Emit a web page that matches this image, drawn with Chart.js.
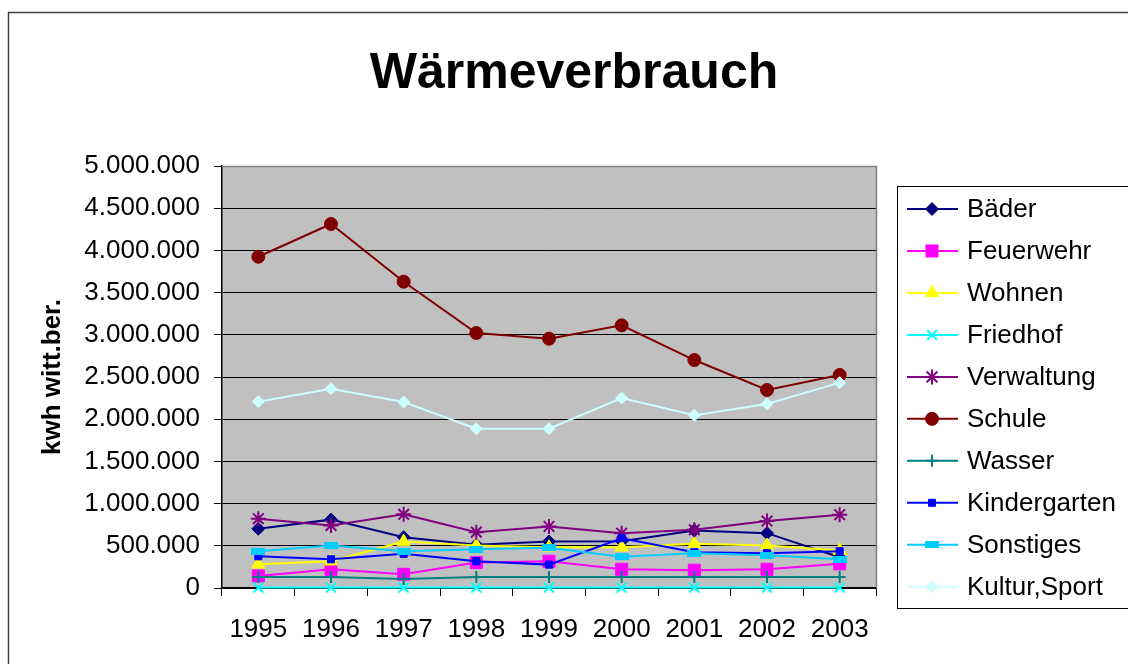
<!DOCTYPE html>
<html>
<head>
<meta charset="utf-8">
<title>Wärmeverbrauch</title>
<script src="https://cdn.jsdelivr.net/npm/chart.js@4.4.1/dist/chart.umd.min.js"></script>
<style>
  body { margin: 0; background: #fff; }
  #wrap { width: 1128px; height: 664px; }
</style>
</head>
<body>
<div id="wrap"><canvas id="heatChart" width="1128" height="664"></canvas></div>
<script>
// values (kWh, weather adjusted)
const years = ['1995', '1996', '1997', '1998', '1999', '2000', '2001', '2002', '2003'];
const baeder = [702000, 810000, 602000, 512000, 551000, 555000, 682000, 650000, 364000];
const feuerwehr = [143000, 221000, 162000, 301000, 317000, 221000, 210000, 221000, 286000];
const wohnen = [280000, 317000, 550000, 504000, 483000, 483000, 524000, 504000, 444000];
const friedhof = [5000, 5000, 5000, 5000, 5000, 5000, 5000, 5000, 5000];
const verwaltung = [821000, 742000, 873000, 662000, 730000, 650000, 690000, 793000, 869000];
const schule = [3925000, 4313000, 3629000, 3021000, 2954000, 3112000, 2701000, 2346000, 2524000];
const wasser = [131000, 131000, 107000, 131000, 131000, 131000, 131000, 131000, 131000];
const kindergarten = [376000, 340000, 405000, 317000, 277000, 590000, 424000, 412000, 436000];
const sonstiges = [436000, 504000, 436000, 460000, 476000, 369000, 412000, 388000, 340000];
const kultur = [2207000, 2361000, 2204000, 1887000, 1887000, 2251000, 2046000, 2180000, 2433000];
const yTicks = [0, 500000, 1000000, 1500000, 2000000, 2500000, 3000000, 3500000, 4000000, 4500000, 5000000];

const FONT = '"Liberation Sans", Arial, sans-serif';

// wide flat marker used by Excel for "Sonstiges"
function dashMarker(color) {
    const c = document.createElement('canvas');
    c.width = 14; c.height = 7;
    const g = c.getContext('2d');
    g.fillStyle = color;
    g.fillRect(0, 0, 14, 7);
    return c;
}

function series(label, data, color, style, radius, extra) {
    return Object.assign({
        label: label,
        data: data,
        borderColor: color,
        backgroundColor: color,
        borderWidth: 2,
        pointStyle: style,
        pointRadius: radius,
        pointBorderWidth: (style === 'cross' || style === 'crossRot' || style === 'star') ? 2 : 1,
        pointBorderColor: color,
        pointBackgroundColor: color,
        tension: 0,
        clip: false
    }, extra || {});
}

const datasets = [
    series('Bäder', baeder, '#000080', 'rectRot', 6.5),
    series('Feuerwehr', feuerwehr, '#FF00FF', 'rect', 8.5),
    series('Wohnen', wohnen, '#FFFF00', 'triangle', 7.5),
    series('Friedhof', friedhof, '#00FFFF', 'crossRot', 7),
    series('Verwaltung', verwaltung, '#800080', 'star', 7.5),
    series('Schule', schule, '#800000', 'circle', 6.5),
    series('Wasser', wasser, '#008080', 'cross', 6),
    series('Kindergarten', kindergarten, '#0000FF', 'rect', 5),
    series('Sonstiges', sonstiges, '#00CCFF', dashMarker('#00CCFF'), 7),
    series('Kultur,Sport', kultur, '#CCFFFF', 'rectRot', 6)
];
// Excel paints later series on top
datasets.forEach((d, i) => { d.order = datasets.length - i; });

const frame = {
    id: 'frame',
    beforeDraw(chart) {
        const { ctx, chartArea: a } = chart;
        ctx.save();
        ctx.fillStyle = '#C0C0C0';
        ctx.fillRect(a.left, a.top, a.right - a.left, a.bottom - a.top);
        ctx.restore();
    },
    afterDraw(chart) {
        const { ctx, chartArea: a } = chart;
        ctx.save();
        // plot area border (top / right)
        ctx.strokeStyle = '#808080';
        ctx.lineWidth = 1.5;
        ctx.beginPath();
        ctx.moveTo(a.left, a.top + 0.5);
        ctx.lineTo(a.right + 0.5, a.top + 0.5);
        ctx.lineTo(a.right + 0.5, a.bottom);
        ctx.stroke();

        // outer chart frame
        ctx.strokeStyle = '#404040';
        ctx.lineWidth = 1.5;
        ctx.strokeRect(8.5, 12.5, 1140, 670);

        // title
        ctx.fillStyle = '#000';
        ctx.font = 'bold 50px ' + FONT;
        ctx.textAlign = 'center';
        ctx.textBaseline = 'alphabetic';
        ctx.fillText('Wärmeverbrauch', 574, 88);

        // legend
        const lx = 897, ly = 186;
        ctx.strokeStyle = '#000';
        ctx.lineWidth = 1;
        ctx.strokeRect(lx + 0.5, ly + 0.5, 300, 422);
        ctx.font = '26px ' + FONT;
        ctx.textAlign = 'left';
        ctx.textBaseline = 'middle';
        chart.data.datasets.forEach((d, i) => {
            const y = 209 + i * 41.97;
            ctx.strokeStyle = d.borderColor;
            ctx.lineWidth = 2;
            ctx.beginPath();
            ctx.moveTo(907, y);
            ctx.lineTo(958, y);
            ctx.stroke();
            ctx.fillStyle = d.backgroundColor;
            ctx.strokeStyle = d.borderColor;
            ctx.lineWidth = d.pointBorderWidth;
            Chart.helpers.drawPoint(ctx, { pointStyle: d.pointStyle, radius: d.pointRadius, rotation: 0, borderWidth: d.pointBorderWidth }, 932, y);
            ctx.fillStyle = '#000';
            ctx.fillText(d.label, 967, y + 1);
        });
        ctx.restore();
    }
};

function dotted(v) {
    return String(v).replace(/\B(?=(\d{3})+(?!\d))/g, '.');
}

new Chart(document.getElementById('heatChart'), {
    type: 'line',
    data: { labels: years, datasets: datasets },
    options: {
        responsive: false,
        animation: false,
        layout: { padding: { left: 10, top: 166, right: 252, bottom: 10 } },
        plugins: {
            legend: { display: false },
            tooltip: { enabled: false },
            title: { display: false }
        },
        scales: {
            x: {
                offset: true,
                grid: { display: true, offset: true, drawOnChartArea: false, drawTicks: true, tickLength: 8, color: '#000', lineWidth: 1 },
                border: { color: '#000', width: 1.5 },
                ticks: { color: '#000', padding: 18, font: { family: FONT, size: 26 }, maxRotation: 0 },
                afterFit(s) { s.height = 66; }
            },
            y: {
                min: 0,
                max: 5000000,
                afterBuildTicks(s) { s.ticks = yTicks.map(v => ({ value: v })); },
                grid: { color: '#000', lineWidth: 1, tickLength: 8 },
                border: { color: '#000', width: 1.5 },
                ticks: { color: '#000', padding: 14, font: { family: FONT, size: 26 }, callback: v => dotted(v) },
                title: { display: true, text: 'kwh witt.ber.', color: '#000', font: { family: FONT, size: 26, weight: 'bold' }, padding: { top: 27, bottom: 0 } },
                afterFit(s) { s.width = 212; }
            }
        }
    },
    plugins: [frame]
});
</script>
</body>
</html>
